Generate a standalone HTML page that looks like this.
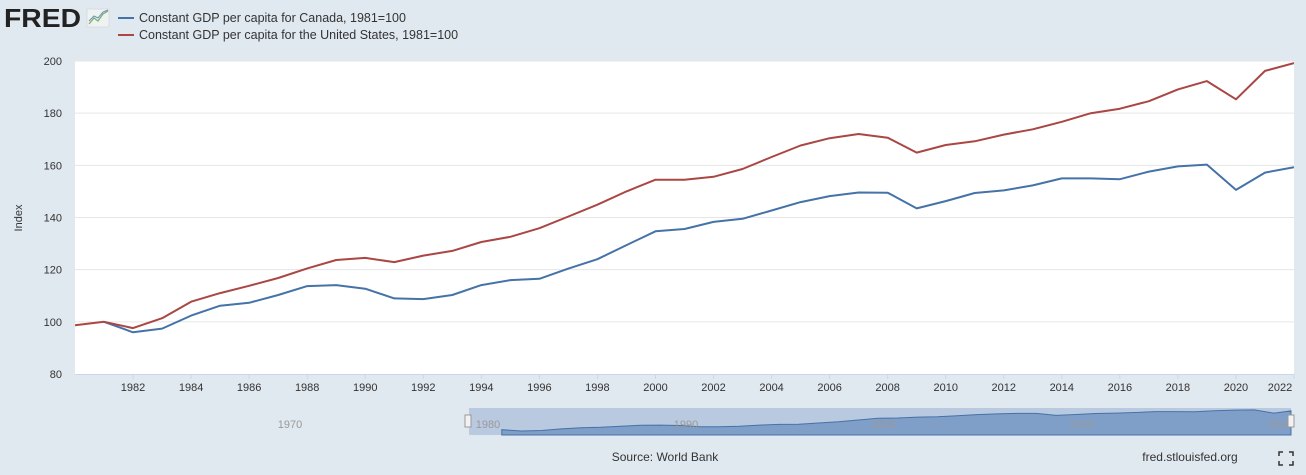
<!DOCTYPE html>
<html><head><meta charset="utf-8"><style>
body{margin:0;background:#e1e9f0;font-family:"Liberation Sans",sans-serif;}
svg{display:block}
</style></head><body>
<svg id="c" width="1306" height="475">
<rect x="0" y="0" width="1306" height="475" fill="#e1e9f0"/>
<g>
<text x="4" y="27" font-size="26" font-weight="bold" fill="#222" textLength="77" lengthAdjust="spacingAndGlyphs">FRED</text>
<rect x="87" y="9" width="22" height="18" fill="#eef2f0" stroke="#ccc" stroke-width="0.5"/>
<polyline points="89,24 94,18 98,21 103,14 108,11" fill="none" stroke="#7caf6a" stroke-width="1.2"/>
<polyline points="89,21 94,16 98,18 103,12 108,10" fill="none" stroke="#6a8fc0" stroke-width="1"/>
</g>
<g>
<g><line x1="118" y1="18" x2="134" y2="18" stroke="#4572a7" stroke-width="2"/>
<text x="139" y="22" font-size="12.5" fill="#333">Constant GDP per capita for Canada, 1981=100</text></g>
<g><line x1="118" y1="35" x2="134" y2="35" stroke="#aa4643" stroke-width="2"/>
<text x="139" y="39" font-size="12.5" fill="#333">Constant GDP per capita for the United States, 1981=100</text></g>
</g>
<rect x="75" y="61" width="1219" height="313" fill="#fff"/>
<g id="grid"></g><g id="yt"></g><g id="xt"></g>
<defs><clipPath id="cp"><rect x="75" y="55" width="1219" height="330"/></clipPath></defs>
<g id="lines" clip-path="url(#cp)"></g>
<text transform="translate(22,218) rotate(-90)" text-anchor="middle" font-size="11" fill="#333">Index</text>
<g>
<rect x="75" y="408" width="1219" height="27" fill="#e1e9f0"/>
<rect x="469" y="408" width="822" height="27" fill="#b9c9e0"/>
<path id="nav" fill="#7f9fc9" stroke="#4572a7" stroke-width="1"/>
<g id="navt"></g>
<rect x="465" y="415" width="6" height="12" fill="#f2f2f2" stroke="#999"/>
<rect x="1288" y="415" width="6" height="12" fill="#f2f2f2" stroke="#999"/>
</g>
<text x="665" y="461" text-anchor="middle" font-size="12" fill="#333">Source: World Bank</text>
<text x="1190" y="461" text-anchor="middle" font-size="12" fill="#333">fred.stlouisfed.org</text>
<g stroke="#333" stroke-width="1.5" fill="none">
<path d="M1279,456v-4h4M1289,452h4v4M1293,461v4h-4M1283,465h-4v-4"/></g>
</svg>
<script>
const years=[1980,1981,1982,1983,1984,1985,1986,1987,1988,1989,1990,1991,1992,1993,1994,1995,1996,1997,1998,1999,2000,2001,2002,2003,2004,2005,2006,2007,2008,2009,2010,2011,2012,2013,2014,2015,2016,2017,2018,2019,2020,2021,2022];
const usValues=[98.7,100,97.6,101.4,107.7,111,113.8,116.8,120.5,123.7,124.5,122.9,125.4,127.2,130.6,132.6,135.9,140.4,144.9,150,154.5,154.5,155.6,158.6,163.2,167.6,170.4,172,170.6,164.9,167.8,169.2,171.8,173.8,176.7,180,181.7,184.6,189.1,192.3,185.3,196.2,199.2];
const caValues=[null,100,96,97.4,102.4,106.2,107.3,110.3,113.7,114.1,112.7,109,108.7,110.3,114.1,116,116.5,120.4,124,129.4,134.7,135.6,138.3,139.5,142.7,145.9,148.2,149.6,149.5,143.5,146.3,149.4,150.4,152.3,155,155,154.7,157.6,159.6,160.3,150.6,157.2,159.3];
const yTicks=[80,100,120,140,160,180,200];
const xTicks=[1982,1984,1986,1988,1990,1992,1994,1996,1998,2000,2002,2004,2006,2008,2010,2012,2014,2016,2018,2020,2022];
const navTicks=[1970,1980,1990,2000,2010,2020];
const NS='http://www.w3.org/2000/svg';
const X=y=>75+(y-1980)*(1219/42);
const Y=v=>374-(v-80)*313/120;
const NX=y=>482+(y-1980)*19.8;
const NY=v=>431-(v-96)*21/64;
function mk(t,a,p){const e=document.createElementNS(NS,t);for(const k in a)e.setAttribute(k,a[k]);p.appendChild(e);return e;}
const g=document.getElementById('grid'),yt=document.getElementById('yt'),xt=document.getElementById('xt');
yTicks.forEach(v=>{
 if(v>80){const l=mk('line',{x1:75,x2:1294,y1:Y(v),y2:Y(v),stroke:'#e6e6e6','stroke-width':1},g);
 
 }
 const t=mk('text',{x:62,y:Y(v)+4,'text-anchor':'end','font-size':11,fill:'#333'},yt);t.textContent=v;
 
 
});
mk('line',{x1:75,x2:1294,y1:374.5,y2:374.5,stroke:'#ccd6eb'},g);
xTicks.forEach(yr=>{
 mk('line',{x1:X(yr),x2:X(yr),y1:374,y2:379,stroke:'#ccd6eb'},xt);
 const lx=Math.min(X(yr),1294-14);
 const t=mk('text',{x:lx,y:391,'text-anchor':'middle','font-size':11,fill:'#333'},xt);t.textContent=yr;
 
 
});
const L=document.getElementById('lines');
function line(vals,col,name){let d='';vals.forEach((v,i)=>{if(v==null)return;d+=(d?'L':'M')+X(years[i]).toFixed(1)+','+Y(v).toFixed(1);});
 const p=mk('path',{d:d,fill:'none',stroke:col,'stroke-width':2,'stroke-linejoin':'round'},L);
 
 }
line(caValues,'#4572a7','canada-line');
line(usValues,'#aa4643','us-line');
let nd='M'+NX(1981)+',435';caValues.forEach((v,i)=>{if(v==null)return;nd+='L'+Math.min(NX(years[i]),1291).toFixed(1)+','+NY(v).toFixed(1);});nd+='L1291,435Z';
document.getElementById('nav').setAttribute('d',nd);
const nt=document.getElementById('navt');
navTicks.forEach(yr=>{const t=mk('text',{x:NX(yr)+6,y:428,'text-anchor':'middle','font-size':11,fill:'#999'},nt);t.textContent=yr;
 
 });
</script>
</body></html>
